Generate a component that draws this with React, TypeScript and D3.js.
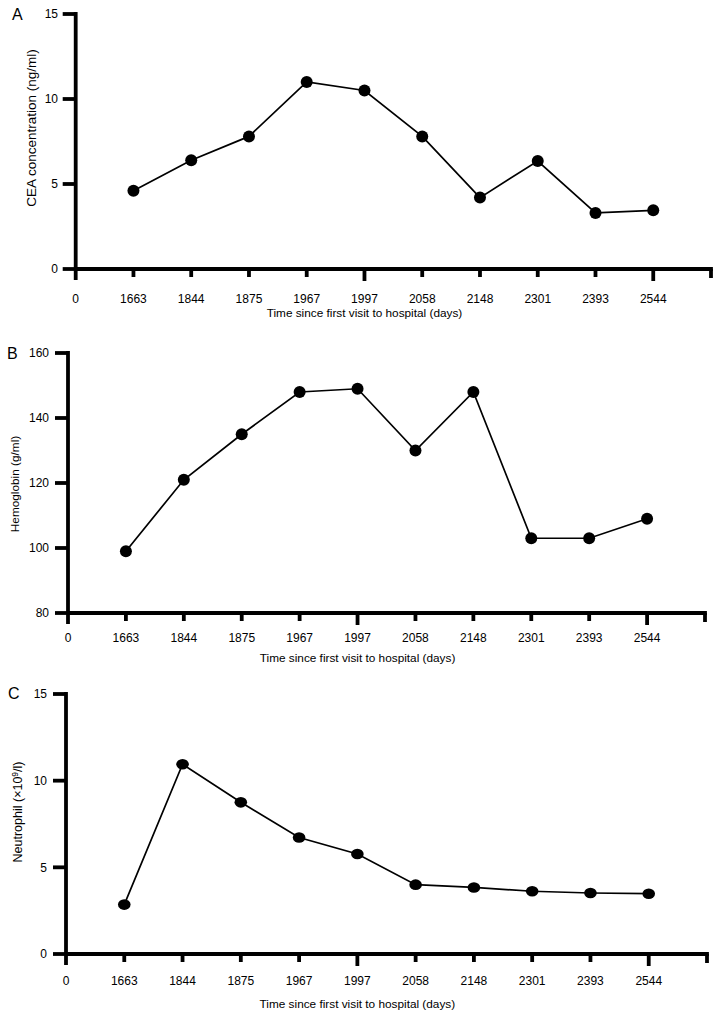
import React from "react";
import * as d3 from "d3";

const timeCategories = ["0", "1663", "1844", "1875", "1967", "1997", "2058", "2148", "2301", "2393", "2544"];
const dataDays = ["1663", "1844", "1875", "1967", "1997", "2058", "2148", "2301", "2393", "2544"];
const longTicks = ["1997", "2544"];

const ceaValues = [4.6, 6.4, 7.8, 11.0, 10.5, 7.8, 4.2, 6.35, 3.3, 3.45];
const hemoglobinValues = [99, 121, 135, 148, 149, 130, 148, 103, 103, 109];
const neutrophilValues = [2.85, 10.95, 8.75, 6.72, 5.77, 4.0, 3.84, 3.62, 3.52, 3.48];

const ceaTicks = [0, 5, 10, 15];
const hemoglobinTicks = [80, 100, 120, 140, 160];
const neutrophilTicks = [0, 5, 10, 15];

const xTitle = "Time since first visit to hospital (days)";
const FONT = "'Liberation Sans', Arial, Helvetica, sans-serif";

type PanelProps = {
  letter: string;
  letterX: number;
  letterY: number;
  values: number[];
  yDomain: [number, number];
  yTicks: number[];
  x0: number;
  xEnd: number;
  yTop: number;
  yBottom: number;
  yTickLabelX: number;
  yLabel: React.ReactNode;
  yLabelX: number;
  yLabelY: number;
  yLabelSize: number;
  xLabelY: number;
  xTitleY: number;
  rx: number;
  ry: number;
};

function Panel(p: PanelProps) {
  const domain = [...timeCategories, "end"];
  const x = d3.scalePoint<string>().domain(domain).range([p.x0, p.xEnd]);
  const y = d3.scaleLinear().domain(p.yDomain).range([p.yBottom, p.yTop]);
  const pts = dataDays.map((d, i) => [x(d) as number, y(p.values[i])] as [number, number]);
  const line = d3.line()(pts) as string;
  const aw = 3.8;
  return (
    <g fontFamily={FONT} fill="#000">
      <text x={p.letterX} y={p.letterY} fontSize={16}>{p.letter}</text>
      <line x1={p.x0} x2={p.x0} y1={p.yTop - aw / 2} y2={p.yBottom + 11} stroke="#000" strokeWidth={aw} />
      {p.yTicks.map((t) => (
        <g key={t}>
          <line x1={p.x0 - 13} x2={p.x0} y1={y(t)} y2={y(t)} stroke="#000" strokeWidth={aw} />
          <text x={p.yTickLabelX} y={y(t)} dy="0.36em" textAnchor="end" fontSize={12}>{t}</text>
        </g>
      ))}
      <line x1={p.x0} x2={p.xEnd + aw / 2} y1={p.yBottom} y2={p.yBottom} stroke="#000" strokeWidth={aw} />
      {domain.slice(1).map((c) => {
        const len = longTicks.includes(c) ? 12 : c === "end" ? 9 : 8;
        return (
          <line key={c} x1={x(c)} x2={x(c)} y1={p.yBottom} y2={p.yBottom + len} stroke="#000" strokeWidth={aw} />
        );
      })}
      {timeCategories.map((c) => (
        <text key={c} x={x(c)} y={p.xLabelY} textAnchor="middle" fontSize={12}>{c}</text>
      ))}
      <text x={x("1997")} y={p.xTitleY} textAnchor="middle" fontSize={11.8}>{xTitle}</text>
      <text
        transform={`translate(${p.yLabelX},${p.yLabelY}) rotate(-90)`}
        textAnchor="middle"
        fontSize={p.yLabelSize}
      >
        {p.yLabel}
      </text>
      <path d={line} fill="none" stroke="#000" strokeWidth={1.7} />
      {pts.map(([px, py], i) => (
        <ellipse key={i} cx={px} cy={py} rx={p.rx} ry={p.ry} fill="#000" />
      ))}
    </g>
  );
}

export default function App() {
  return (
    <svg width={720} height={1014} style={{ position: "absolute", left: 0, top: 0, background: "#fff" }}>
      <rect width={720} height={1014} fill="#fff" />
      <Panel
        letter="A" letterX={12} letterY={20}
        values={ceaValues} yDomain={[0, 15]} yTicks={ceaTicks}
        x0={75.7} xEnd={711} yTop={14} yBottom={269}
        yTickLabelX={58}
        yLabel="CEA concentration (ng/ml)" yLabelX={35.5} yLabelY={128} yLabelSize={13.5}
        xLabelY={303} xTitleY={317} rx={6} ry={6}
      />
      <Panel
        letter="B" letterX={7} letterY={359}
        values={hemoglobinValues} yDomain={[80, 160]} yTicks={hemoglobinTicks}
        x0={68} xEnd={705} yTop={353} yBottom={613}
        yTickLabelX={49}
        yLabel="Hemoglobin (g/ml)" yLabelX={18.5} yLabelY={484} yLabelSize={11.8}
        xLabelY={642} xTitleY={662} rx={6} ry={6}
      />
      <Panel
        letter="C" letterX={8} letterY={699}
        values={neutrophilValues} yDomain={[0, 15]} yTicks={neutrophilTicks}
        x0={66} xEnd={707} yTop={694} yBottom={954}
        yTickLabelX={47}
        yLabel={
          <>
            <tspan>Neutrophil (×10</tspan>
            <tspan dy={-4} fontSize={8.5}>9</tspan>
            <tspan dy={4}>/l)</tspan>
          </>
        }
        yLabelX={21.7} yLabelY={812} yLabelSize={12.5}
        xLabelY={985} xTitleY={1008} rx={6.3} ry={5.3}
      />
    </svg>
  );
}
